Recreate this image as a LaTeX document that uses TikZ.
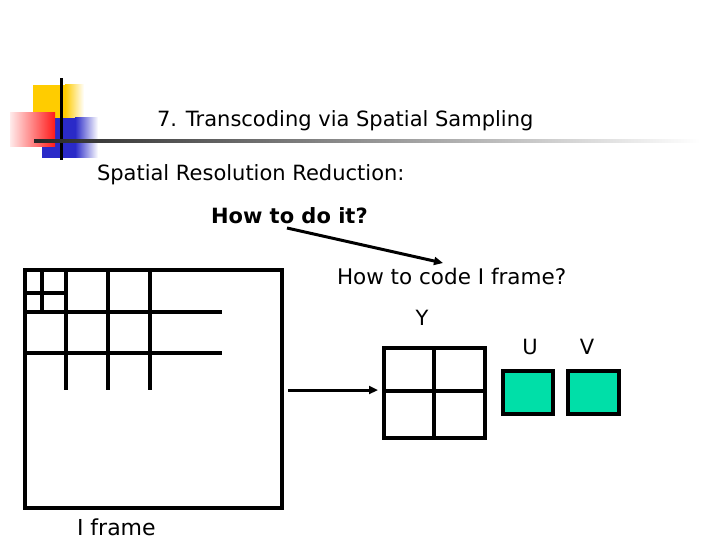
\documentclass[tikz,border=0pt]{standalone}
\usepackage{fontspec}
\setmainfont{DejaVu Sans}
\usetikzlibrary{arrows.meta}
\definecolor{logoyellow}{HTML}{FFCC00}
\definecolor{logored}{HTML}{FF1A1A}
\definecolor{logoblue}{HTML}{2A2AC8}
\definecolor{chroma}{HTML}{00DFA8}
\newcommand{\fsz}[1]{\fontsize{#1}{#1}\selectfont}
\begin{document}
\begin{tikzpicture}[x=1pt,y=-1pt,
  txt/.style={inner sep=0pt,outer sep=0pt,font=\fsz{21}},
  gridline/.style={line width=4pt},
  frame/.style={draw,line width=4pt,inner sep=0pt,outer sep=0pt,anchor=north west},
  arrowline/.style={line width=3pt,-{Triangle[length=9pt,width=8pt]}}]
\useasboundingbox (0,0) rectangle (720,540);
% logo
\fill[logoyellow] (33,85) rectangle (66,120);
\shade[left color=logoyellow,right color=white] (65,85) rectangle (84,120);
\fill[logoblue] (42,118) rectangle (76,158);
\shade[left color=logoblue,right color=white] (75,118) rectangle (98,158);
\shade[left color=red!8,right color=logored] (10,113) rectangle (55,147);
\fill[black] (59.5,78) rectangle (62.5,160);
\shade[left color=black!85,right color=white] (34,139.5) rectangle (700,142.5);
% texts
\node[txt,anchor=west] (title) at (157,121) {7. Transcoding via Spatial Sampling};
\node[txt,anchor=west] (sub) at (97,175) {Spatial Resolution Reduction:};
\node[txt,font=\fsz{21}\bfseries,anchor=west] (how) at (211,216) {How to do it?};
\node[txt,font=\fsz{21.5},anchor=west] (code) at (337,276) {How to code I frame?};
\node[txt] (ylab) at (422,318) {Y};
\node[txt] (ulab) at (530,347) {U};
\node[txt] (vlab) at (587,347) {V};
\node[txt,font=\fsz{22},anchor=west] (iflab) at (77,527) {I frame};
% I frame
\node[frame,minimum width=257.5pt,minimum height=238pt] (iframe) at (24.5,270) {};
\draw[gridline] (24.5,311.5) -- (222,311.5);
\draw[gridline] (24.5,353) -- (222,353);
\draw[gridline] (66,270) -- (66,390);
\draw[gridline] (107.5,270) -- (107.5,390);
\draw[gridline] (150,270) -- (150,390);
\draw[gridline] (42,270) -- (42,311.5);
\draw[gridline] (24.5,293) -- (66,293);
% Y grid
\node[frame,minimum width=101pt,minimum height=90pt] (ygrid) at (384,348) {};
\draw[gridline] (433.5,348) -- (433.5,438);
\draw[gridline] (384,391) -- (485,391);
% U V
\node[frame,fill=chroma,minimum width=50pt,minimum height=43pt] (ubox) at (503,371) {};
\node[frame,fill=chroma,minimum width=51pt,minimum height=43pt] (vbox) at (568,371) {};
% arrows
\coordinate (s1) at (287,228);
\coordinate (e1) at (443,263);
\draw[arrowline] (s1) -- (e1);
\coordinate (s2) at (288,390);
\draw[arrowline] (s2) -- (ygrid.west |- s2) [shorten >=6pt];
\end{tikzpicture}
\end{document}
